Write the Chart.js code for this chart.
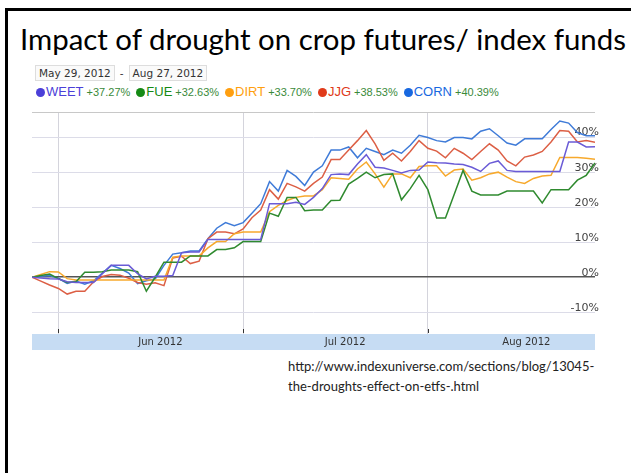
<!DOCTYPE html>
<html>
<head>
<meta charset="utf-8">
<script src="https://cdn.jsdelivr.net/npm/chart.js@4"></script>
<style>
body{margin:0;background:#fff;width:631px;height:473px;overflow:hidden;position:relative;font-family:Lato,sans-serif}
#frame{position:absolute;left:5px;top:8px;width:700px;height:600px;border-left:3px solid #000;border-top:3px solid #000}
#title{position:absolute;left:20px;top:21px;margin:0;font-weight:normal;font-size:29.4px;color:#000;white-space:nowrap}
#dates{position:absolute;left:35px;top:65px;font:10.5px "DejaVu Sans",sans-serif;line-height:12px;color:#333;white-space:nowrap}
#dates span.box{display:inline-block;border:1px solid #ddd;background:#fafafa;padding:1px 3px}
#dates span.dash{display:inline-block;margin:0 5px}
#legend{position:absolute;left:36px;top:82px;white-space:nowrap;font-family:"Liberation Sans",Arial,sans-serif}
#legend .item{display:inline-block;margin-right:6px}
#legend .dot{display:inline-block;width:9px;height:9px;border-radius:50%;margin-right:1px;vertical-align:-1px}
#legend .name{font-size:13px}
#legend .chg{font-size:11px;color:#3a8a3a;margin-left:3px}
#box{position:absolute;left:32px;top:102px;width:571px;height:248px}
#src{position:absolute;left:288px;top:356px;font-size:13px;line-height:20px;color:#222}
</style>
</head>
<body>
<div id="frame"></div>
<h1 id="title">Impact of drought on crop futures/ index funds</h1>
<div id="dates"><span class="box">May 29, 2012</span><span class="dash">-</span><span class="box">Aug 27, 2012</span></div>
<div id="legend"></div>
<div id="box"><canvas id="chart"></canvas></div>
<div id="src">http://www.indexuniverse.com/sections/blog/13045-<br>the-droughts-effect-on-etfs-.html</div>
<script>
// trading days shown on the chart
const days = ['May 29','May 30','May 31',
  'Jun 1','Jun 4','Jun 5','Jun 6','Jun 7','Jun 8','Jun 11','Jun 12','Jun 13','Jun 14','Jun 15','Jun 18','Jun 19','Jun 20','Jun 21','Jun 22','Jun 25','Jun 26','Jun 27','Jun 28','Jun 29',
  'Jul 2','Jul 3','Jul 5','Jul 6','Jul 9','Jul 10','Jul 11','Jul 12','Jul 13','Jul 16','Jul 17','Jul 18','Jul 19','Jul 20','Jul 23','Jul 24','Jul 25','Jul 26','Jul 27','Jul 30','Jul 31',
  'Aug 1','Aug 2','Aug 3','Aug 6','Aug 7','Aug 8','Aug 9','Aug 10','Aug 13','Aug 14','Aug 15','Aug 16','Aug 17','Aug 20','Aug 21','Aug 22','Aug 23','Aug 24','Aug 27','Aug 28'];

const names = ['WEET','FUE','DIRT','JJG','CORN'];
const changes = ['+37.27%','+32.63%','+33.70%','+38.53%','+40.39%'];
const dotColors = ['#4b3fd8','#158a15','#ff9f10','#e03a1a','#1868e0'];
const lineColors = ['#6a5bd6','#2f8a2f','#f7a92c','#dc5f45','#3f7bd8'];

const weet = [0,-0.2,-0.4,-0.5,-1.3,-1.5,-1.5,-1.5,1.0,3.4,3.4,3.4,1.0,-0.5,0.3,0.3,0.5,7.0,7.2,7.2,10.8,10.8,10.8,10.8,10.8,10.8,10.8,21,21,21,21.4,20.8,22.8,25.3,29.3,29.5,29.3,32.3,35,31.4,31.2,30.5,29.8,30.5,30.6,32.9,32.7,32.6,32.3,32.2,31.4,30.2,32.5,33.2,30.5,30.2,30.2,30.2,30.2,30.2,30.2,38.6,38.6,37.2,37.27];
const fue = [0,0.5,0.9,-0.4,-1.5,-1.3,1.4,1.4,1.6,2.1,2.1,2.1,1.6,-4.0,0,4.3,4.3,4.3,6.1,6.1,6.1,7.9,7.9,8.4,10.2,10.2,10.2,18.3,17.4,22.8,22.8,19,19.2,19.2,21.9,22,26.6,28.2,30,28.4,29.3,29.5,22.1,25.3,29.1,25,16.9,16.9,23.7,30.5,24.6,23.5,23.5,23.5,24.6,24.6,24.6,24.6,21.2,25,25,25,27.7,29.1,32.63];
const dirt = [0,0.8,1.6,1.5,-0.4,-0.8,-0.8,-0.8,-0.8,-0.8,-0.8,-0.8,-0.8,-0.8,-0.8,-0.8,5.7,6.1,6.1,6.1,8.4,10.2,10.2,12.4,12.9,12.9,12.9,18.7,20.5,21.9,22.8,23.2,23.2,25,28.4,28.2,28,30.9,32.9,29.5,25.7,29.5,29.5,28.4,31.6,31.8,31.8,28.9,30.6,30.9,27.7,28.4,29.5,30,28.6,27.3,26.8,28.2,28.9,29.1,34.2,34.2,34.2,34,33.7];
const jjg = [0,-1.1,-2.2,-3.2,-4.8,-4.0,-4.0,-1.3,0.2,0.8,0.6,-0.3,-1.5,-2.0,-1.6,-2.4,5.5,6.0,3.9,4.6,11,12.9,12.9,12.4,13.8,17,19.2,25,22.3,26.8,25.8,24.6,26.8,28.6,33.6,33.6,36.3,39,41.9,38.1,33.4,35.4,33.2,35.9,39,36.8,36,34.1,36.8,35.4,33.6,35.9,38.1,36.3,33.2,31.8,34.3,34.9,35.9,38.6,41.9,41.7,38.6,39,38.53];
const corn = [0,0.3,0.5,-0.3,-1.8,-1.1,-2.0,-1.0,1.2,3.4,2.5,1.2,-1.8,-1.0,-0.5,3.4,6.6,7.0,7.5,7.5,11,14,15.6,14.7,15.6,18.3,21,27.3,24.6,30.5,28.8,26.2,30,31.8,36.3,36.3,37.2,34.1,36.8,35.9,35,36.3,35.4,37.7,40.5,39.9,39,38.6,39.9,39.9,39.5,41.7,42.4,40.4,38.3,37.7,39.5,39.5,39.5,42.2,44.6,44,41.3,40.4,40.39];
const series = [weet, fue, dirt, jjg, corn];

const yTicks = [-10, 0, 10, 20, 30, 40];
const yMin = -16.2, yMax = 47;
const monthLabels = ['Jun 2012', 'Jul 2012', 'Aug 2012'];
const monthLabelAt = [14.6, 35.6, 56.2];
// first trading day of each month
const monthStarts = [3, 24, 45];

const legend = document.getElementById('legend');
names.forEach((n, i) => {
  legend.insertAdjacentHTML('beforeend',
    '<span class="item"><span class="dot" style="background:' + dotColors[i] + '"></span>' +
    '<span class="name" style="color:' + dotColors[i] + '">' + n + '</span>' +
    '<span class="chg">' + changes[i] + '</span></span>');
});

const labelFor = {};
monthLabelAt.forEach((p, i) => labelFor[p] = monthLabels[i]);

// small dark marks at the foot of each month line
const monthMarks = {
  id: 'monthMarks',
  afterDraw(chart) {
    const ctx = chart.ctx, x = chart.scales.x, b = chart.chartArea.bottom;
    ctx.save();
    ctx.strokeStyle = '#333';
    ctx.lineWidth = 1;
    monthStarts.forEach(m => {
      const px = Math.round(x.getPixelForValue(m)) + 0.5;
      ctx.beginPath();
      ctx.moveTo(px, b - 5);
      ctx.lineTo(px, b - 1);
      ctx.stroke();
    });
    ctx.restore();
  }
};

new Chart(document.getElementById('chart'), {
  type: 'line',
  data: {
    labels: days,
    datasets: series.map((s, i) => ({
      label: names[i],
      data: s.map((v, k) => ({x: k, y: v})),
      borderColor: lineColors[i],
      borderWidth: 1.5,
      pointRadius: 0,
      tension: 0,
      fill: false
    }))
  },
  plugins: [monthMarks],
  options: {
    responsive: true,
    maintainAspectRatio: false,
    animation: false,
    layout: {padding: 0},
    plugins: {legend: {display: false}, tooltip: {enabled: false}},
    scales: {
      x: {
        type: 'linear',
        min: 0,
        max: days.length - 1,
        backgroundColor: '#c6dcf3',
        border: {display: false},
        grid: {
          drawTicks: false,
          color: c => monthStarts.includes(c.tick && c.tick.value) ? '#d4d4dc' : 'rgba(0,0,0,0)'
        },
        ticks: {
          autoSkip: false,
          maxRotation: 0,
          padding: 2,
          color: '#333',
          font: {family: 'DejaVu Sans', size: 10},
          callback: v => labelFor[v] || ''
        },
        afterBuildTicks: s => {
          s.ticks = monthStarts.concat(monthLabelAt).sort((a, b) => a - b).map(v => ({value: v}));
        }
      },
      y: {
        position: 'right',
        min: yMin,
        max: yMax,
        border: {display: false},
        grid: {
          drawTicks: false,
          color: c => c.tick.value === 0 ? '#555' : (c.tick.value === yMax ? '#c8c8c8' : '#dcdce8'),
          lineWidth: c => c.tick.value === 0 ? 1.5 : 1
        },
        ticks: {
          mirror: true,
          padding: 4,
          labelOffset: -4.5,
          color: '#444',
          font: {family: 'DejaVu Sans', size: 11},
          callback: v => yTicks.includes(v) ? v + '%' : ''
        },
        afterBuildTicks: s => {
          s.ticks = yTicks.concat([yMax]).map(v => ({value: v}));
        }
      }
    }
  }
});
</script>
</body>
</html>
